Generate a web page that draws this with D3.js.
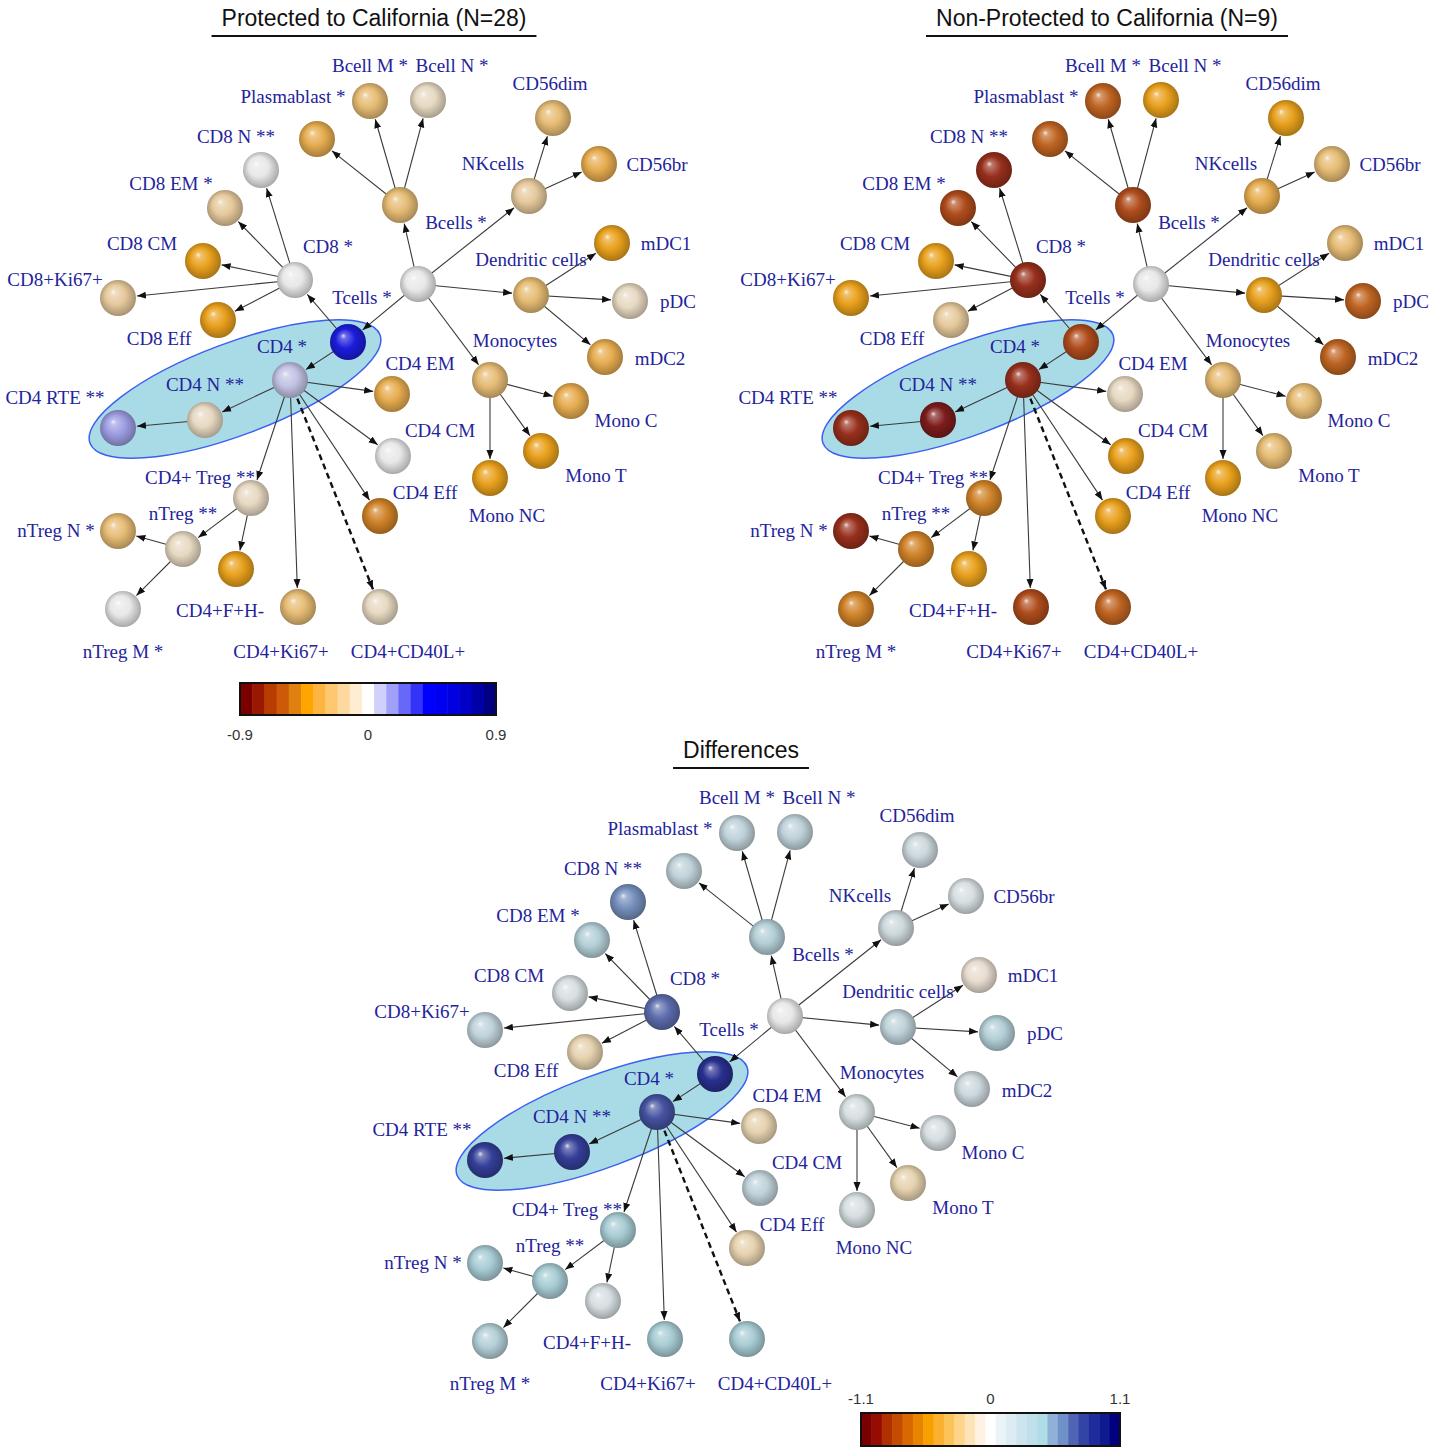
<!DOCTYPE html>
<html>
<head>
<meta charset="utf-8">
<script src="https://cdn.jsdelivr.net/npm/d3@7"></script>
<style>
  body { margin: 0; background: #fff; }
  .lbl { font-family: "Liberation Serif", "Times New Roman", serif; font-size: 19px; fill: #23239b; }
  .ttl { font-family: "Liberation Sans", Arial, sans-serif; font-size: 23px; fill: #111; }
  .cbl { font-family: "Liberation Sans", Arial, sans-serif; font-size: 15px; fill: #333; }
</style>
</head>
<body>
<div id="chart"></div>
<script>
// cell populations (tree order) and their labels
const nodeNames = ["PBMC", "Tcells", "CD4", "CD4 N", "CD4 RTE", "CD8", "CD8 N", "CD8 EM", "CD8 CM", "CD8+Ki67+",
  "CD8 Eff", "Bcells", "Plasmablast", "Bcell M", "Bcell N", "NKcells", "CD56dim", "CD56br", "Dendritic cells",
  "mDC1", "pDC", "mDC2", "Monocytes", "Mono C", "Mono T", "Mono NC", "CD4 EM", "CD4 CM", "CD4 Eff",
  "CD4+CD40L+", "CD4+Ki67+", "CD4+ Treg", "CD4+F+H-", "nTreg", "nTreg N", "nTreg M"];
const nodeLabels = ["", "Tcells *", "CD4 *", "CD4 N **", "CD4 RTE **", "CD8 *", "CD8 N **", "CD8 EM *", "CD8 CM", "CD8+Ki67+",
  "CD8 Eff", "Bcells *", "Plasmablast *", "Bcell M *", "Bcell N *", "NKcells", "CD56dim", "CD56br", "Dendritic cells",
  "mDC1", "pDC", "mDC2", "Monocytes", "Mono C", "Mono T", "Mono NC", "CD4 EM", "CD4 CM", "CD4 Eff",
  "CD4+CD40L+", "CD4+Ki67+", "CD4+ Treg **", "CD4+F+H-", "nTreg **", "nTreg N *", "nTreg M *"];
// parent population (-1 = root)
const parents = [-1, 0, 1, 2, 3, 1, 5, 5, 5, 5, 5, 0, 11, 11, 11, 0, 15, 15, 0, 18, 18, 18, 0, 22, 22, 22,
  2, 2, 2, 2, 2, 2, 31, 31, 33, 33];
const dashedEdges = ["CD4+CD40L+"];
// populations circled in each network
const highlighted = ["Tcells", "CD4", "CD4 N", "CD4 RTE"];

// values per panel
const protectedValues = [0, 0.55, 0.12, -0.1, 0.2, 0, 0, -0.2, -0.4, -0.2,
  -0.4, -0.25, -0.35, -0.25, -0.1, -0.2, -0.25, -0.35, -0.25,
  -0.4, -0.08, -0.38, -0.3, -0.35, -0.4, -0.42, -0.38, 0, -0.5,
  -0.1, -0.25, -0.12, -0.42, -0.12, -0.22, 0];
const nonProtectedValues = [0, -0.65, -0.8, -0.85, -0.8, -0.8, -0.75, -0.7, -0.45, -0.45,
  -0.2, -0.7, -0.6, -0.6, -0.45, -0.38, -0.45, -0.25, -0.45,
  -0.25, -0.58, -0.6, -0.28, -0.3, -0.3, -0.45, -0.1, -0.42, -0.42,
  -0.6, -0.7, -0.55, -0.45, -0.55, -0.8, -0.55];
const differenceValues = [0, 1.0, 0.8, 0.92, 0.92, 0.7, 0.62, 0.35, 0.05, 0.3,
  -0.2, 0.35, 0.25, 0.3, 0.25, 0.15, 0.2, 0.05, 0.25,
  -0.12, 0.35, 0.2, 0.05, 0.05, -0.2, 0.05, -0.22, 0.3, -0.2,
  0.45, 0.45, 0.4, 0.05, 0.4, 0.4, 0.35];

// colorbar ticks
const ticks1 = [-0.9, 0, 0.9];
const ticks2 = [-1.1, 0, 1.1];

// layout of the tree (units relative to root)
const layoutX = [0, -70, -128, -213, -300, -123, -157, -193, -215, -300, -200, -18, -101, -48, 10, 111, 135, 181, 113,
  194, 212, 187, 72, 153, 123, 72, -26, -25, -38, -38, -120, -167, -182, -235, -300, -295];
const layoutY = [0, 58, 96, 136, 144, -4, -114, -76, -23, 14, 36, -79, -145, -183, -184, -88, -166, -120, 11,
  -41, 17, 73, 96, 117, 167, 194, 110, 172, 232, 323, 323, 214, 285, 265, 247, 325];
const labelDX = [0, 14, -8, 0, -63, 33, -25, -54, -61, -63, -59, 56, -24, 0, 24, -36, -3, 58, 0,
  54, 48, 55, 25, 55, 55, 17, 28, 47, 45, 28, -17, -51, -16, 0, -62, 0];
const labelDY = [0, -45, -34, -36, -31, -34, -34, -25, -18, -19, 18, 17, -43, -36, -35, -33, -35, 0, -36,
  0, 0, 1, -40, 19, 24, 37, -31, -26, -24, 44, 44, -21, 41, -36, -1, 42];

// discrete colour palettes of the two colorbars
const palette1 = ["#7a0000", "#9a1800", "#b83c00", "#cc5a08", "#e08010", "#ffa500", "#fdb440", "#fdc870",
  "#fdd9a0", "#feedd0", "#ffffff", "#d0d0fa", "#a0a0f8", "#6868f8", "#3434f8", "#0000ff", "#0000f0",
  "#0000e0", "#0000c8", "#0000a8", "#000080"];
const palette2 = ["#7a0000", "#960c00", "#b03000", "#c44c00", "#d86800", "#e88400", "#f8a000", "#fbb030",
  "#fcc458", "#fdd488", "#fde4b8", "#fff2e2", "#ffffff", "#eaf4f8", "#dcecf2", "#cde4ee", "#bfe0ea",
  "#b0dce6", "#90b0d8", "#7090c8", "#5064b4", "#3444a6", "#1e2c9c", "#101a90", "#000080"];

const W = 1445, H = 1448, R = 18;

const color1 = d3.scaleQuantize().domain([-0.9, 0.9]).range(palette1);
const color2 = d3.scaleQuantize().domain([-1.1, 1.1]).range(palette2);

const panels = [
  { key: "p", title: "Protected to California (N=28)", values: protectedValues, color: color1, ox: 418, oy: 284,
    bar: { x0: 240, x1: 496, y: 683, h: 32, ticks: ticks1, labelY: 734 } },
  { key: "n", title: "Non-Protected to California (N=9)", values: nonProtectedValues, color: color1, ox: 1151, oy: 284 },
  { key: "d", title: "Differences", values: differenceValues, color: color2, ox: 785, oy: 1016,
    bar: { x0: 861, x1: 1120, y: 1413, h: 33, ticks: ticks2, labelY: 1398 } }
];

const svg = d3.select("#chart").append("svg")
  .attr("width", W).attr("height", H)
  .style("background", "#fff");

const defs = svg.append("defs");
defs.append("marker")
  .attr("id", "arrow")
  .attr("viewBox", "0 -4 9 8")
  .attr("refX", 9).attr("refY", 0)
  .attr("markerUnits", "userSpaceOnUse")
  .attr("markerWidth", 9).attr("markerHeight", 8)
  .attr("orient", "auto")
  .append("path").attr("d", "M0,-3.5L9,0L0,3.5Z").attr("fill", "#111");

const nodes = nodeNames.map((n, i) => ({ name: n, label: nodeLabels[i], parent: parents[i], lx: layoutX[i], ly: layoutY[i], i: i }));
const links = nodes.filter(d => d.parent >= 0).map(d => ({ source: nodes[d.parent], target: d, dashed: dashedEdges.includes(d.name) }));

panels.forEach(p => {
  const x = d3.scaleLinear().domain([-300, 300]).range([p.ox - 300, p.ox + 300]);
  const y = d3.scaleLinear().domain([-300, 300]).range([p.oy - 300, p.oy + 300]);
  const g = svg.append("g").attr("class", "panel-" + p.key);

  // title with underline
  const tx = x(-44), ty = y(-266);
  const t = g.append("text").attr("class", "ttl")
    .attr("x", tx).attr("y", ty).attr("text-anchor", "middle").attr("dominant-baseline", "central")
    .text(p.title);
  const tw = t.node().getComputedTextLength();
  g.append("line")
    .attr("x1", tx - tw / 2 - 10).attr("x2", tx + tw / 2 + 10)
    .attr("y1", ty + 18).attr("y2", ty + 18)
    .attr("stroke", "#111").attr("stroke-width", 2);

  // highlight ellipse around the CD4 lineage
  const hl = nodes.filter(d => highlighted.includes(d.name));
  const a = hl[0], b = hl[hl.length - 1];
  const ax = x(a.lx), ay = y(a.ly), bx = x(b.lx), by = y(b.ly);
  const ang = Math.atan2(ay - by, ax - bx) * 180 / Math.PI;
  const half = Math.hypot(ax - bx, ay - by) / 2;
  g.append("ellipse")
    .attr("transform", `translate(${(ax + bx) / 2 + 2},${(ay + by) / 2 + 4}) rotate(${ang})`)
    .attr("rx", half + 32).attr("ry", 46)
    .attr("fill", "#a9dbe7").attr("stroke", "#3d5ff0").attr("stroke-width", 1.5);

  // edges
  g.selectAll(".edge").data(links).enter().append("line")
    .attr("class", "edge")
    .each(function(d) {
      const sx = x(d.source.lx), sy = y(d.source.ly), ex = x(d.target.lx), ey = y(d.target.ly);
      const len = Math.hypot(ex - sx, ey - sy);
      const k = (len - R - 1) / len;
      d3.select(this)
        .attr("x1", sx).attr("y1", sy)
        .attr("x2", sx + (ex - sx) * k).attr("y2", sy + (ey - sy) * k);
    })
    .attr("stroke", d => d.dashed ? "#111" : "#3a3a3a")
    .attr("stroke-width", d => d.dashed ? 2.4 : 1.1)
    .attr("stroke-dasharray", d => d.dashed ? "6,4" : null)
    .attr("marker-end", "url(#arrow)");

  // sphere gradients
  nodes.forEach(d => {
    const base = d3.interpolateRgb(p.color(p.values[d.i]), "#8a8a8a")(0.2);
    const gr = defs.append("radialGradient").attr("id", `s-${p.key}-${d.i}`)
      .attr("cx", "50%").attr("cy", "50%").attr("r", "55%")
      .attr("fx", "36%").attr("fy", "32%");
    gr.append("stop").attr("offset", "0%").attr("stop-color", d3.interpolateRgb(base, "#fff")(0.85));
    gr.append("stop").attr("offset", "14%").attr("stop-color", d3.interpolateRgb(base, "#fff")(0.35));
    gr.append("stop").attr("offset", "50%").attr("stop-color", base);
    gr.append("stop").attr("offset", "85%").attr("stop-color", d3.color(base).darker(0.7));
    gr.append("stop").attr("offset", "100%").attr("stop-color", d3.color(base).darker(1.2));
  });

  g.selectAll(".node").data(nodes).enter().append("circle")
    .attr("class", "node")
    .attr("cx", d => x(d.lx)).attr("cy", d => y(d.ly)).attr("r", R)
    .attr("fill", d => `url(#s-${p.key}-${d.i})`);

  g.selectAll(".lbl").data(nodes.filter(d => d.label)).enter().append("text")
    .attr("class", "lbl")
    .attr("x", d => x(d.lx + labelDX[d.i])).attr("y", d => y(d.ly + labelDY[d.i]))
    .attr("text-anchor", "middle").attr("dominant-baseline", "central")
    .text(d => d.label);

  // colorbar
  if (p.bar) {
    const bar = p.bar;
    const pal = p.color.range();
    const dom = p.color.domain();
    const bx = d3.scaleLinear().domain(dom).range([bar.x0, bar.x1]);
    const step = (dom[1] - dom[0]) / pal.length;
    g.selectAll(".cb").data(pal).enter().append("rect")
      .attr("x", (c, i) => bx(dom[0] + i * step))
      .attr("width", (c, i) => bx(dom[0] + (i + 1) * step) - bx(dom[0] + i * step) + 0.5)
      .attr("y", bar.y).attr("height", bar.h)
      .attr("fill", c => c);
    g.append("rect")
      .attr("x", bar.x0).attr("y", bar.y).attr("width", bar.x1 - bar.x0).attr("height", bar.h)
      .attr("fill", "none").attr("stroke", "#111").attr("stroke-width", 2);
    g.selectAll(".cbl").data(bar.ticks).enter().append("text")
      .attr("class", "cbl")
      .attr("x", v => bx(v)).attr("y", bar.labelY)
      .attr("text-anchor", "middle").attr("dominant-baseline", "central")
      .text(v => v);
  }
});
</script>
</body>
</html>
